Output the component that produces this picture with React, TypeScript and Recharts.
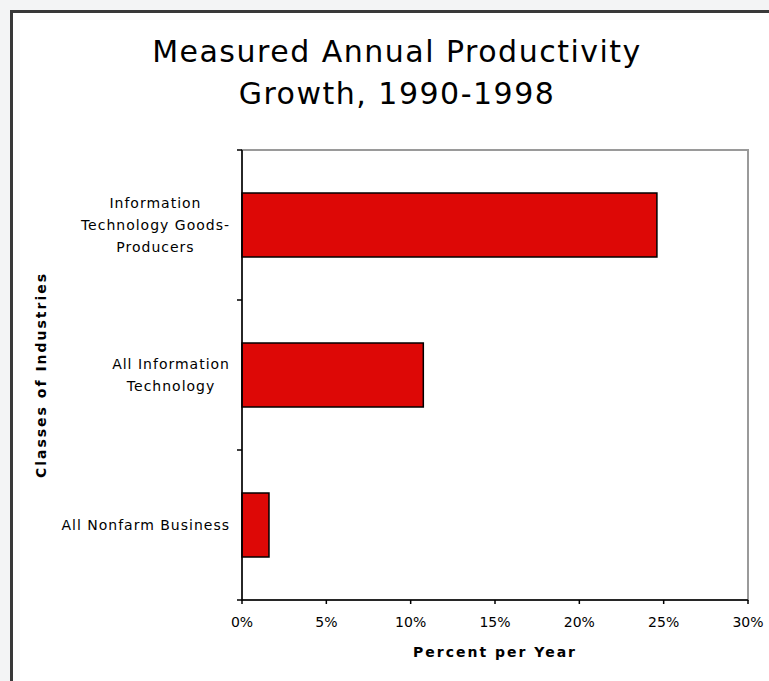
import { BarChart, Bar, XAxis, YAxis, Label, ReferenceArea } from 'recharts';

const categories = [
  'Information\nTechnology Goods-\nProducers',
  'All Information\nTechnology',
  'All Nonfarm Business',
];
const growth = [24.6, 10.75, 1.6];
const xTicks = [0, 5, 10, 15, 20, 25, 30];

const data = categories.map((name, i) => ({ name, growth: growth[i] }));

const FONT = '"DejaVu Sans", Verdana, sans-serif';
const LABEL_FONT = '14px "DejaVu Sans"';
const LABEL_SPACING = 1;

let ctx: CanvasRenderingContext2D | null = null;
function textWidth(s: string): number {
  if (!ctx) ctx = document.createElement('canvas').getContext('2d');
  if (!ctx) return s.length * 9;
  ctx.font = LABEL_FONT;
  return ctx.measureText(s).width + s.length * LABEL_SPACING;
}

// category labels sit mid-band, tick marks go on the band edges
function CategoryTick(props: any) {
  const { x, y, payload, index } = props;
  const half = payload.offset ?? 75;
  const lines = String(payload.value).split('\n');
  const widest = Math.max(...lines.map(textWidth));
  const cx = x - 12 - widest / 2;
  const top = y - ((lines.length - 1) * 22) / 2;
  return (
    <g>
      <line x1={x - 5} x2={x} y1={y - half} y2={y - half} stroke="#000" strokeWidth={1.5} />
      {index === categories.length - 1 && (
        <line x1={x - 5} x2={x} y1={y + half} y2={y + half} stroke="#000" strokeWidth={1.5} />
      )}
      <text textAnchor="middle" fontFamily={FONT} fontSize={14} letterSpacing={LABEL_SPACING} fill="#000">
        {lines.map((l, i) => (
          <tspan key={i} x={cx} y={top + i * 22} dy="0.35em">
            {l}
          </tspan>
        ))}
      </text>
    </g>
  );
}

function XTitle({ viewBox }: any) {
  return (
    <text
      x={viewBox.x + viewBox.width / 2}
      y={viewBox.y + 52}
      dy="0.35em"
      textAnchor="middle"
      fontFamily={FONT}
      fontWeight="bold"
      fontSize={14}
      letterSpacing={2}
      fill="#000"
    >
      Percent per Year
    </text>
  );
}

function YTitle({ viewBox }: any) {
  const x = viewBox.x + 41;
  const y = viewBox.y + viewBox.height / 2;
  return (
    <text
      x={x}
      y={y}
      dy="0.35em"
      textAnchor="middle"
      transform={`rotate(-90 ${x} ${y})`}
      fontFamily={FONT}
      fontWeight="bold"
      fontSize={14}
      letterSpacing={2}
      fill="#000"
    >
      Classes of Industries
    </text>
  );
}

export default function App() {
  return (
    <div style={{ position: 'fixed', left: 0, top: 0, width: 769, height: 681, background: '#f3f4f5', overflow: 'hidden' }}>
      <div
        style={{
          position: 'absolute',
          left: 10,
          top: 10,
          width: 800,
          height: 720,
          borderLeft: '3px solid #3a3a3a',
          borderTop: '3px solid #3a3a3a',
          background: '#fff',
        }}
      />
      <div
        style={{
          position: 'absolute',
          left: 10,
          top: 31,
          width: 774,
          textAlign: 'center',
          fontFamily: FONT,
          fontSize: 30,
          letterSpacing: 1.5,
          lineHeight: '42px',
          color: '#000',
        }}
      >
        Measured Annual Productivity
        <br />
        Growth, 1990-1998
      </div>
      <div style={{ position: 'absolute', left: 0, top: 0 }}>
        <BarChart
          width={769}
          height={681}
          data={data}
          layout="vertical"
          margin={{ top: 150, right: 21, bottom: 0, left: 0 }}
        >
          <ReferenceArea x1={0} x2={30} fill="none" stroke="#9a9a9a" strokeWidth={2} ifOverflow="visible" />
          <XAxis
            type="number"
            domain={[0, 30]}
            ticks={xTicks}
            tickFormatter={(v: number) => `${v}%`}
            height={81}
            tickSize={4}
            tickMargin={13}
            tick={{ fontSize: 14, fontFamily: FONT, fill: '#000' }}
            axisLine={{ stroke: '#000', strokeWidth: 1.5 }}
            tickLine={{ stroke: '#000', strokeWidth: 1.5 }}
          >
            <Label content={XTitle} />
          </XAxis>
          <YAxis
            type="category"
            dataKey="name"
            width={242}
            interval={0}
            tickSize={0}
            tickMargin={0}
            tickLine={false}
            tick={<CategoryTick />}
            axisLine={{ stroke: '#000', strokeWidth: 1.5 }}
          >
            <Label content={YTitle} />
          </YAxis>
          <Bar dataKey="growth" fill="#dd0806" stroke="#000" strokeWidth={1.5} barSize={64} isAnimationActive={false} />
        </BarChart>
      </div>
    </div>
  );
}
